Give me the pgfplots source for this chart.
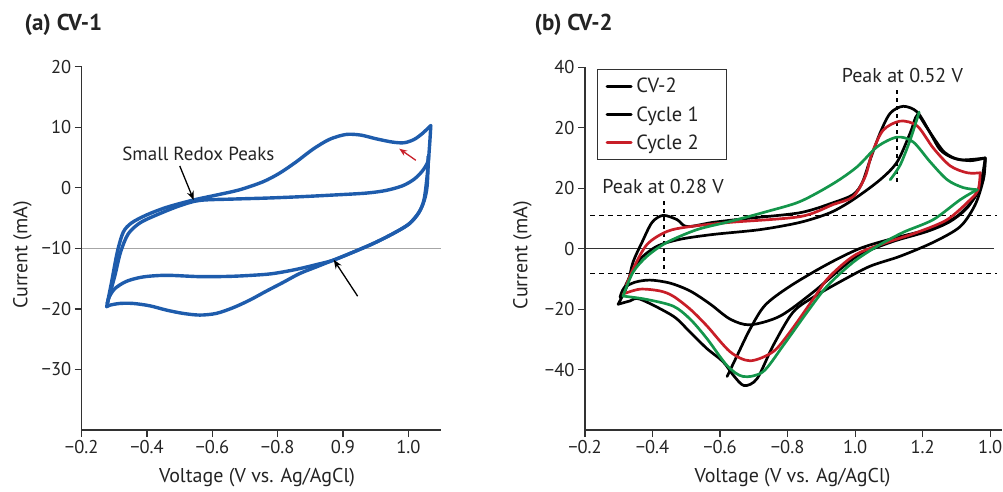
\documentclass[border=0pt]{standalone}
\usepackage{fontspec}
\setmainfont{PT Sans}
\usepackage{pgfplots}
\pgfplotsset{compat=1.18}
\usetikzlibrary{arrows.meta}
\definecolor{cvblue}{RGB}{30,92,172}
\definecolor{cvred}{RGB}{200,30,40}
\definecolor{cvgreen}{RGB}{20,150,75}
\definecolor{axgray}{RGB}{50,50,50}
\definecolor{txt}{RGB}{35,35,35}
\pgfplotsset{
  cvaxis/.style={
    scale only axis, anchor=south west,
    axis lines=left, axis line style={axgray, line width=1.2pt, -},
    tick align=outside, major tick length=7pt,
    tick style={axgray, line width=1.2pt},
    tick label style={font=\fontsize{18.5}{20}\selectfont, text=txt},
    label style={font=\fontsize{20}{23}\selectfont, text=txt},
    clip=false,
  },
}
\begin{document}
\begin{tikzpicture}[x=1pt,y=1pt]
\node[anchor=base west, font=\fontsize{23}{26}\selectfont\bfseries, text=txt] at (21,460) {(a) CV-1};
\node[anchor=base west, font=\fontsize{23}{26}\selectfont\bfseries, text=txt] at (531,460) {(b) CV-2};

% ---------------- panel (a)
\begin{axis}[cvaxis, at={(81.7pt,61pt)}, width=359.3pt, height=363.3pt,
  xmin=0, xmax=5.5, ymin=-40, ymax=20,
  xtick={0,1,2,3,4,5}, xticklabels={−0.2,−0.4,−0.6,−0.8,0.9,1.0},
  ytick={-30,-20,-10,0,10,20}, yticklabels={−30,−20,−10,0,10,20},
  xlabel={Voltage (V vs. Ag/AgCl)}, ylabel={Current (mA)},
  x label style={at={(axis description cs:0.488,-0.132)}, anchor=center},
  y label style={at={(axis description cs:-0.165,0.482)}, anchor=center},
]
\draw[gray!70, line width=1.1pt] (axis cs:0,-10) -- (axis cs:5.5,-10);
\addplot[cvblue, line width=3.4pt, smooth, line cap=round] coordinates {
(0.382,-19.65) (0.458,-15.54) (0.545,-10.62) (0.636,-7.33) (0.763,-5.80) (0.992,-4.49) (1.298,-3.23) (1.705,-2.03) (2.061,-1.20) (2.417,-0.33) (2.774,0.99) (3.028,2.41) (3.282,4.27) (3.537,6.35) (3.791,7.99) (4.046,8.81) (4.275,8.70) (4.504,8.10) (4.758,7.55) (4.936,7.44) (5.089,7.99) (5.216,8.98) (5.344,10.29)};
\addplot[cvblue, line width=3.4pt, smooth, line cap=round] coordinates {
(5.344,10.29) (5.328,7.44) (5.293,2.52) (5.242,-1.86) (5.165,-4.05) (5.013,-5.97) (4.758,-7.61) (4.453,-9.25) (4.097,-10.89) (3.842,-11.99) (3.588,-13.08) (3.333,-14.18) (3.079,-15.65) (2.824,-17.08) (2.570,-18.56) (2.316,-19.81) (2.061,-20.74) (1.807,-21.02) (1.552,-20.74) (1.298,-20.20) (1.043,-19.49) (0.789,-19.10) (0.585,-19.10) (0.433,-19.38) (0.382,-19.65)};
\addplot[cvblue, line width=3.4pt, smooth, line cap=round] coordinates {
(0.392,-19.10) (0.433,-17.46) (0.509,-14.45) (0.595,-10.62) (0.712,-7.61) (0.891,-5.80) (1.145,-4.49) (1.501,-2.96) (1.807,-2.08) (2.316,-1.86) (2.824,-1.70) (3.333,-1.48) (3.842,-1.20) (4.351,-0.88) (4.656,-0.44) (4.911,0.33) (5.089,1.42) (5.216,2.79) (5.293,4.16) (5.308,5.25)};
\addplot[cvblue, line width=3.4pt, smooth, line cap=round] coordinates {
(5.308,5.25) (5.288,0.33) (5.242,-2.13) (5.155,-4.16) (5.003,-6.02) (4.758,-7.61) (4.453,-9.25) (4.097,-10.89) (3.842,-11.99) (3.588,-12.70) (3.333,-13.36) (3.079,-13.90) (2.824,-14.29) (2.316,-14.61) (1.807,-14.67) (1.298,-14.45) (0.941,-14.72) (0.687,-15.44) (0.509,-16.64) (0.422,-18.01) (0.392,-19.10)};
\node[font=\fontsize{19}{22}\selectfont, text=txt] at (axis cs:1.786,5.65) {Small Redox Peaks};
\draw[-{Stealth[length=9pt,width=7pt]}, line width=1.3pt, black] (axis cs:1.501,3.61) -- (axis cs:1.715,-2.03);
\draw[-{Stealth[length=9pt,width=7pt]}, line width=1.3pt, black] (axis cs:4.224,-17.9) -- (axis cs:3.858,-11.88);
\draw[-{Stealth[length=8pt,width=6pt]}, line width=1.3pt, cvred] (axis cs:5.115,4.54) -- (axis cs:4.860,6.46);
\end{axis}

% ---------------- panel (b)
\begin{axis}[cvaxis, at={(585pt,61pt)}, width=416.7pt, height=362.7pt,
  xmin=0, xmax=6.17, ymin=-60, ymax=60,
  xtick={0,1,2,3,4,5,6}, xticklabels={−0.2,−0.4,−0.6,−0.8,1.0,1.2,1.0},
  ytick={-40,-20,0,20,40,60}, yticklabels={−40,−20,0,20,20,40},
  xlabel={Voltage (V vs. Ag/AgCl)}, ylabel={Current (mA)},
  x label style={at={(axis description cs:0.498,-0.132)}, anchor=center},
  y label style={at={(axis description cs:-0.15,0.482)}, anchor=center},
  legend style={at={(axis cs:0.178,59.5)}, anchor=north west, draw=axgray, line width=1.1pt,
    font=\fontsize{20.5}{24}\selectfont, text=txt, inner xsep=8pt, inner ysep=7pt, row sep=8pt},
  legend cell align=left,
  legend image code/.code={\draw[#1, line width=3pt] (0pt,0pt) -- (24pt,0pt); \path (26pt,0pt);},
]
\draw[axgray, line width=1.1pt] (axis cs:0,0) -- (axis cs:6.06,0);
\draw[black, line width=1.1pt, dash pattern=on 5pt off 4pt] (axis cs:0.074,11.07) -- (axis cs:6.10,11.07);
\draw[black, line width=1.1pt, dash pattern=on 5pt off 4pt] (axis cs:0.074,-8.1) -- (axis cs:6.10,-8.1);
\draw[black, line width=1.1pt, dash pattern=on 4pt off 4pt] (axis cs:1.17,15.7) -- (axis cs:1.17,-7.8);
\draw[black, line width=1.1pt, dash pattern=on 4pt off 4pt] (axis cs:4.62,52.4) -- (axis cs:4.62,22.2);
% CV-2
\addplot[black, line width=2.7pt, smooth, line cap=round] coordinates {
(0.49,-18.4) (0.622,-12.4) (0.711,-4.5) (0.844,2.1) (0.993,8.7) (1.156,11.0) (1.363,9.6) (1.511,7.3) (1.896,8.7) (2.400,10.0) (3.185,11.9) (3.674,15.2) (3.970,17.9) (4.104,21.8) (4.222,29.4) (4.370,38.3) (4.519,44.8) (4.711,47.1) (4.919,45.2) (5.111,38.3) (5.259,32.7) (5.452,30.0) (5.704,29.1) (5.926,30.0)};
\addlegendentry{CV-2}
% Cycle 1
\addplot[black, line width=2.7pt, smooth, line cap=round] coordinates {
(0.519,-16.1) (0.667,-9.1) (0.815,-3.5) (1.067,0.8) (1.407,3.1) (1.896,4.7) (2.593,6.3) (3.185,8.7) (3.630,11.9) (3.970,16.2) (4.370,22.8) (4.622,28.7) (4.815,38.3) (4.919,44.2) (5.037,40.9) (5.185,35.9) (5.333,31.7) (5.556,29.4) (5.926,30.0)};
\addlegendentry{Cycle 1}
% Cycle 2
\addplot[cvred, line width=2.7pt, smooth, line cap=round] coordinates {
(0.563,-15.0) (0.711,-6.8) (0.919,1.4) (1.215,5.7) (1.556,7.3) (2.148,8.7) (3.185,10.6) (3.674,14.6) (3.970,17.2) (4.148,23.8) (4.252,31.7) (4.415,39.2) (4.667,42.2) (4.919,40.6) (5.156,33.3) (5.407,27.4) (5.659,25.1) (5.852,25.1)};
\addlegendentry{\makebox[80pt][l]{Cycle 2}}
\addplot[forget plot, black, line width=2.7pt, smooth, line cap=round] coordinates {
(5.926,30.0) (5.896,22.8) (5.778,14.6) (5.556,7.3) (5.156,2.1) (4.667,-2.5) (4.222,-5.8) (3.822,-10.4) (3.407,-15.7) (3.081,-21.0) (2.785,-32.1) (2.548,-43.0) (2.356,-45.3) (2.20,-42.0) (2.044,-37.4) (1.807,-33.1) (1.55,-27.5) (1.304,-22.3) (0.815,-16.7) (0.667,-17.3) (0.49,-18.4)};
\addplot[forget plot, black, line width=2.7pt, smooth, line cap=round] coordinates {
(5.926,30.0) (5.852,21.2) (5.674,13.9) (5.407,9.0) (5.067,5.7) (4.563,2.4) (4.074,-1.9) (3.778,-6.8) (3.378,-14.4) (2.889,-22.3) (2.444,-25.2) (2.148,-23.3) (1.852,-18.3) (1.556,-14.0) (1.259,-11.4) (0.963,-10.4) (0.741,-11.1) (0.578,-13.0) (0.519,-16.1)};
\addplot[forget plot, black, line width=2.7pt, smooth, line cap=round] coordinates {
(2.104,-42.3) (2.252,-35.4) (2.444,-26.6) (2.667,-18.7) (3.037,-12.4) (3.585,-5.2) (4.074,0.1) (4.563,3.4) (5.067,6.3) (5.481,10.3) (5.748,16.2) (5.896,22.8) (5.926,29.4)};
\addplot[forget plot, cvred, line width=2.7pt, smooth, line cap=round] coordinates {
(5.852,25.1) (5.822,19.5) (5.704,16.2) (5.363,9.6) (4.919,5.4) (4.474,2.1) (4.074,-1.2) (3.852,-4.5) (3.585,-10.1) (3.378,-16.7) (3.037,-27.5) (2.785,-34.1) (2.444,-37.1) (2.148,-34.1) (1.807,-25.6) (1.556,-20.0) (1.304,-15.7) (1.111,-14.0) (0.815,-13.4) (0.563,-15.0)};
% green
\addplot[forget plot, cvgreen, line width=2.7pt, smooth, line cap=round] coordinates {
(0.563,-15.7) (0.711,-7.8) (0.919,-2.5) (1.215,2.1) (1.659,6.3) (2.148,9.0) (2.696,12.3) (3.185,15.6) (3.674,21.5) (4.030,27.1) (4.326,33.7) (4.622,36.9) (4.859,35.3) (5.111,28.7) (5.363,22.8) (5.600,20.2) (5.807,19.5)};
\addplot[forget plot, cvgreen, line width=2.7pt, smooth, line cap=round] coordinates {
(5.807,19.5) (5.556,16.2) (5.156,9.6) (4.711,5.4) (4.326,0.8) (3.970,-4.5) (3.585,-12.4) (3.289,-21.0) (2.933,-32.1) (2.637,-40.7) (2.341,-42.3) (2.104,-38.7) (1.807,-29.8) (1.556,-23.3) (1.304,-19.0) (0.889,-16.7) (0.563,-15.7)};
\addplot[forget plot, cvgreen, line width=2.7pt, smooth, line cap=round] coordinates {
(4.519,22.8) (4.667,27.7) (4.815,36.0) (4.948,45.2)};
\node[font=\fontsize{20}{23}\selectfont, text=txt] at (axis cs:4.70,57.3) {Peak at 0.52 V};
\node[font=\fontsize{20}{23}\selectfont, text=txt] at (axis cs:1.156,20.5) {Peak at 0.28 V};
\end{axis}
\pgfresetboundingbox
\useasboundingbox (0pt,0pt) rectangle (1003pt,491pt);
\end{tikzpicture}
\end{document}
